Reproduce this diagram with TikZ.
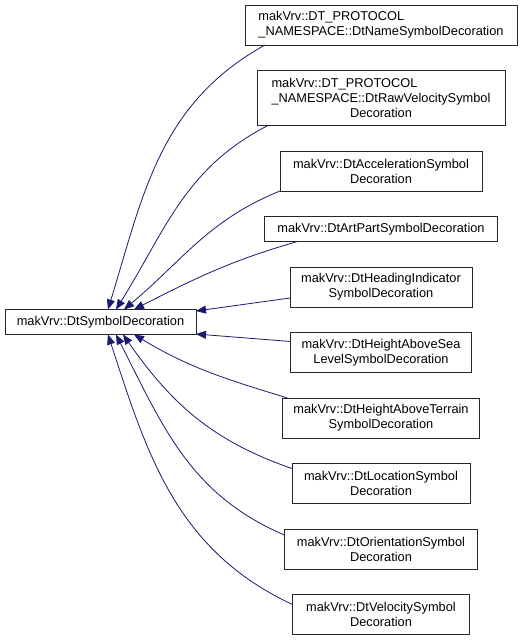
\documentclass[tikz,border=0pt]{standalone}
\usepackage{fontspec}
\setmainfont{Liberation Sans}
\usetikzlibrary{
    positioning,
    arrows.meta
}
\definecolor{edgeblue}{RGB}{25,25,112}
\tikzset{%
    class box/.style={%
        rectangle,
        draw=black!85,
        line width=1pt,
        fill=white,
        inner xsep=2pt,
        inner ysep=0pt,
        outer sep=0pt,
        font=\fontsize{12.8}{15}\selectfont,
    },
    one line/.style={%
        class box,
        minimum height=25pt
    },
    two lines/.style={%
        class box,
        minimum height=40pt,
        align=center
    },
    three lines/.style={%
        class box,
        minimum height=55pt,
        align=left
    },
    inherit/.style={%
        draw=edgeblue,
        line width=0.8pt,
        >={Triangle[length=10pt, width=8pt]},
    },
}

\begin{document}
\begin{tikzpicture}[x=1pt, y=1pt, node distance=25.5pt]
    \useasboundingbox (0,0) rectangle (525,-641);

    \node[one line, minimum width=191pt] (base) at (100.5,-322) {makVrv::DtSymbolDecoration};

    \node[two lines, align=left, minimum width=272pt] (name) at (381,-25) {makVrv::DT\_PROTOCOL\\\_NAMESPACE::DtNameSymbolDecoration};
    \node[three lines, minimum width=248pt, below=of name] (rawvel) {makVrv::DT\_PROTOCOL\\\_NAMESPACE::DtRawVelocitySymbol\\\hfil Decoration};
    \node[two lines, minimum width=202pt, below=of rawvel] (accel) {makVrv::DtAccelerationSymbol\\Decoration};
    \node[one line, minimum width=233pt, below=of accel] (artpart) {makVrv::DtArtPartSymbolDecoration};
    \node[two lines, minimum width=182pt, below=of artpart] (heading) {makVrv::DtHeadingIndicator\\SymbolDecoration};
    \node[two lines, minimum width=181pt, below=of heading] (abovesea) {makVrv::DtHeightAboveSea\\LevelSymbolDecoration};
    \node[two lines, minimum width=197pt, below=of abovesea] (aboveterrain) {makVrv::DtHeightAboveTerrain\\SymbolDecoration};
    \node[two lines, minimum width=178pt, below=of aboveterrain] (location) {makVrv::DtLocationSymbol\\Decoration};
    \node[two lines, minimum width=193pt, below=of location] (orientation) {makVrv::DtOrientationSymbol\\Decoration};
    \node[two lines, minimum width=177pt, below=of orientation] (velocity) {makVrv::DtVelocitySymbol\\Decoration};

    % edges into the top of the base class
    \draw[inherit, ->] ([xshift=20pt]name.south west) to[out=209, in=73] ([xshift=103pt]base.north west);
    \draw[inherit, ->] ([xshift=11pt]rawvel.south west) to[out=207, in=58] ([xshift=111pt]base.north west);
    \draw[inherit, ->] (accel.south west) to[out=202, in=40] ([xshift=119pt]base.north west);
    \draw[inherit, ->] ([xshift=33pt]artpart.south west) to[out=196, in=27] ([xshift=129pt]base.north west);

    % edges into the right side
    \draw[inherit, ->] ([yshift=-11pt]heading.west) -- ([yshift=11pt]base.east);
    \draw[inherit, ->] ([yshift=11pt]abovesea.west) -- ([yshift=-12pt]base.east);

    % edges into the bottom
    \draw[inherit, ->] ([xshift=5pt]aboveterrain.north west) to[out=163, in=-31] ([xshift=129pt]base.south west);
    \draw[inherit, ->] ([yshift=-5pt]location.north west) to[out=161, in=-55] ([xshift=118pt]base.south west);
    \draw[inherit, ->] ([yshift=-6pt]orientation.north west) to[out=157, in=-63] ([xshift=111pt]base.south west);
    \draw[inherit, ->] ([yshift=-10pt]velocity.north west) to[out=155, in=-72] ([xshift=103pt]base.south west);
\end{tikzpicture}
\end{document}
